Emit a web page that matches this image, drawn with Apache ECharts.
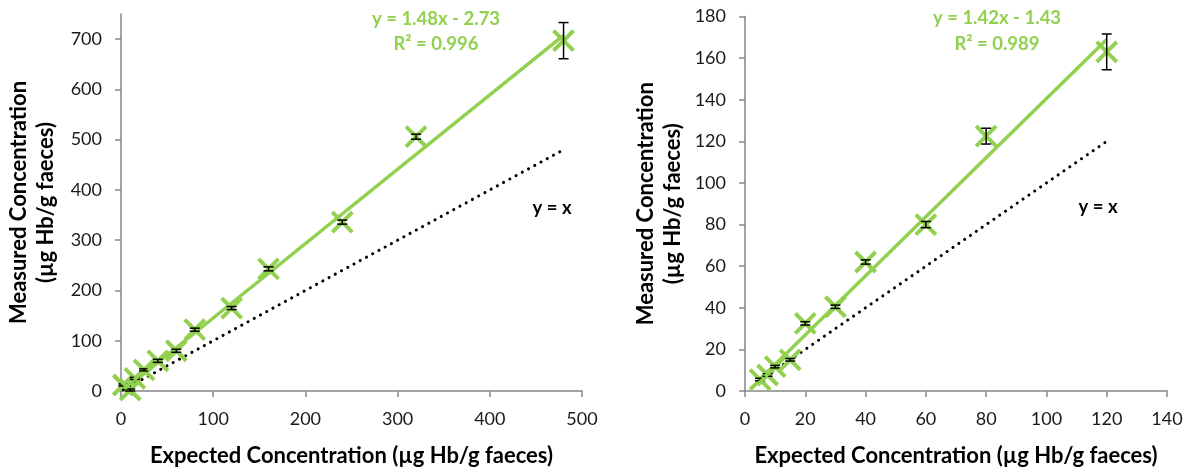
<!DOCTYPE html>
<html>
<head>
<meta charset="utf-8">
<script src="https://cdn.jsdelivr.net/npm/echarts@6/dist/echarts.min.js"></script>
<style>
  html, body { margin: 0; padding: 0; background: #fff; }
  #chart { width: 1194px; height: 474px; }
</style>
</head>
<body>
<div id="chart"></div>
<script>
// Panel A: high range dilution series
const expectedA = [2.5, 10, 15, 25, 40, 60, 80, 120, 160, 240, 320, 480];
const measuredA = [12, 2, 25, 42, 60, 80, 122, 165, 243, 336, 506, 697];
const errorA    = [2, 2, 2, 2, 3, 3, 3, 3, 4, 4, 5, 36];
const slopeA = 1.48, interceptA = -2.73, r2A = 0.996;
const xTicksA = [0, 100, 200, 300, 400, 500];
const yTicksA = [0, 100, 200, 300, 400, 500, 600, 700];

// Panel B: low range dilution series
const expectedB = [5, 7.5, 10, 15, 20, 30, 40, 60, 80, 120];
const measuredB = [5.5, 7.7, 11.7, 15, 32.5, 40.5, 62, 80, 122.5, 163];
const errorB    = [0.6, 0.6, 0.6, 0.6, 0.8, 0.8, 1, 1.5, 3.8, 8.6];
const slopeB = 1.42, interceptB = -1.43, r2B = 0.989;
const xTicksB = [0, 20, 40, 60, 80, 100, 120, 140];
const yTicksB = [0, 20, 40, 60, 80, 100, 120, 140, 160, 180];

const GREEN = '#92D050';
const AXIS = '#868686';
const FONT = 'Lato';

const chart = echarts.init(document.getElementById('chart'));

function fitText(slope, intercept) {
  const s = intercept < 0 ? ' - ' + Math.abs(intercept).toFixed(2) : ' + ' + intercept.toFixed(2);
  return 'y = ' + slope.toFixed(2) + 'x' + s;
}

// X-shaped markers with black error bars drawn on top
function crossRender(params, api) {
  const x = api.value(0), y = api.value(1), e = api.value(2);
  const p = api.coord([x, y]);
  const h = 10;
  const children = [
    { type: 'line', shape: { x1: p[0] - h, y1: p[1] - h, x2: p[0] + h, y2: p[1] + h },
      style: { stroke: GREEN, lineWidth: 4 } },
    { type: 'line', shape: { x1: p[0] - h, y1: p[1] + h, x2: p[0] + h, y2: p[1] - h },
      style: { stroke: GREEN, lineWidth: 4 } }
  ];
  if (e > 0) {
    const top = api.coord([x, y + e]), bot = api.coord([x, y - e]);
    const c = 5;
    const st = { stroke: '#000', lineWidth: 1.5 };
    children.push(
      { type: 'line', shape: { x1: p[0], y1: top[1], x2: p[0], y2: bot[1] }, style: st },
      { type: 'line', shape: { x1: p[0] - c, y1: top[1], x2: p[0] + c, y2: top[1] }, style: st },
      { type: 'line', shape: { x1: p[0] - c, y1: bot[1], x2: p[0] + c, y2: bot[1] }, style: st }
    );
  }
  return { type: 'group', children };
}

function pts(xs, ys, es) { return xs.map((x, i) => [x, ys[i], es[i]]); }
function fitLine(xs, m, b) {
  const lo = Math.min(...xs), hi = Math.max(...xs);
  return [[lo, m * lo + b], [hi, m * hi + b]];
}
function identity(xs) {
  const lo = Math.min(...xs), hi = Math.max(...xs);
  return [[lo, lo], [hi, hi]];
}

const axisLine = { show: true, lineStyle: { color: AXIS, width: 1.5 } };
const nameStyle = { color: '#000', fontFamily: FONT, fontWeight: 'bold', fontSize: 22, lineHeight: 27 };

function tickOpts(values) {
  return {
    axisTick: { show: true, inside: false, length: 6, customValues: values, lineStyle: { color: AXIS, width: 1.5 } },
    axisLabel: { color: '#1a1a1a', fontFamily: FONT, fontSize: 18, margin: 19, customValues: values }
  };
}

function xAxis(gi, max, ticks) {
  return Object.assign({
    type: 'value', gridIndex: gi, min: 0, max,
    name: 'Expected Concentration (µg Hb/g faeces)', nameLocation: 'middle', nameGap: 51,
    nameTextStyle: nameStyle, axisLine, splitLine: { show: false }
  }, tickOpts(ticks));
}
function yAxis(gi, max, ticks, gap) {
  return Object.assign({
    type: 'value', gridIndex: gi, min: 0, max,
    name: 'Measured Concentration\n(µg Hb/g faeces)', nameLocation: 'middle', nameGap: gap, nameRotate: 90,
    nameTextStyle: nameStyle, axisLine, splitLine: { show: false }
  }, tickOpts(ticks));
}

function label(x, y, text, color) {
  return { type: 'text', x, y, style: { text, fill: color, font: 'bold 18.5px ' + FONT, align: 'center', verticalAlign: 'middle' } };
}

const option = {
  backgroundColor: '#fff',
  animation: false,
  grid: [
    { left: 121, right: 612, top: 14, bottom: 83 },
    { left: 745, right: 27, top: 16.5, bottom: 83 }
  ],
  xAxis: [xAxis(0, 500, xTicksA), xAxis(1, 140, xTicksB)],
  yAxis: [yAxis(0, 750, yTicksA, 62), yAxis(1, 180, yTicksB, 59)],
  graphic: [
    label(436, 19, fitText(slopeA, interceptA), GREEN),
    label(436, 44, 'R² = ' + r2A.toFixed(3), GREEN),
    label(552, 208, 'y = x', '#000'),
    label(997, 18, fitText(slopeB, interceptB), GREEN),
    label(997, 44, 'R² = ' + r2B.toFixed(3), GREEN),
    label(1098, 207, 'y = x', '#000')
  ],
  series: [
    { type: 'line', xAxisIndex: 0, yAxisIndex: 0, data: fitLine(expectedA, slopeA, interceptA), symbol: 'none',
      lineStyle: { color: GREEN, width: 3.5 }, z: 2 },
    { type: 'line', xAxisIndex: 0, yAxisIndex: 0, data: identity(expectedA), symbol: 'none',
      lineStyle: { color: '#000', width: 3, type: [0.1, 7], cap: 'round' }, z: 3 },
    { type: 'custom', xAxisIndex: 0, yAxisIndex: 0, data: pts(expectedA, measuredA, errorA), renderItem: crossRender, z: 4,
      encode: { x: 0, y: 1 } },
    { type: 'line', xAxisIndex: 1, yAxisIndex: 1, data: fitLine(expectedB, slopeB, interceptB), symbol: 'none',
      lineStyle: { color: GREEN, width: 3.5 }, z: 2 },
    { type: 'line', xAxisIndex: 1, yAxisIndex: 1, data: identity(expectedB), symbol: 'none',
      lineStyle: { color: '#000', width: 3, type: [0.1, 7], cap: 'round' }, z: 3 },
    { type: 'custom', xAxisIndex: 1, yAxisIndex: 1, data: pts(expectedB, measuredB, errorB), renderItem: crossRender, z: 4,
      encode: { x: 0, y: 1 } }
  ]
};
chart.setOption(option);
</script>
</body>
</html>
